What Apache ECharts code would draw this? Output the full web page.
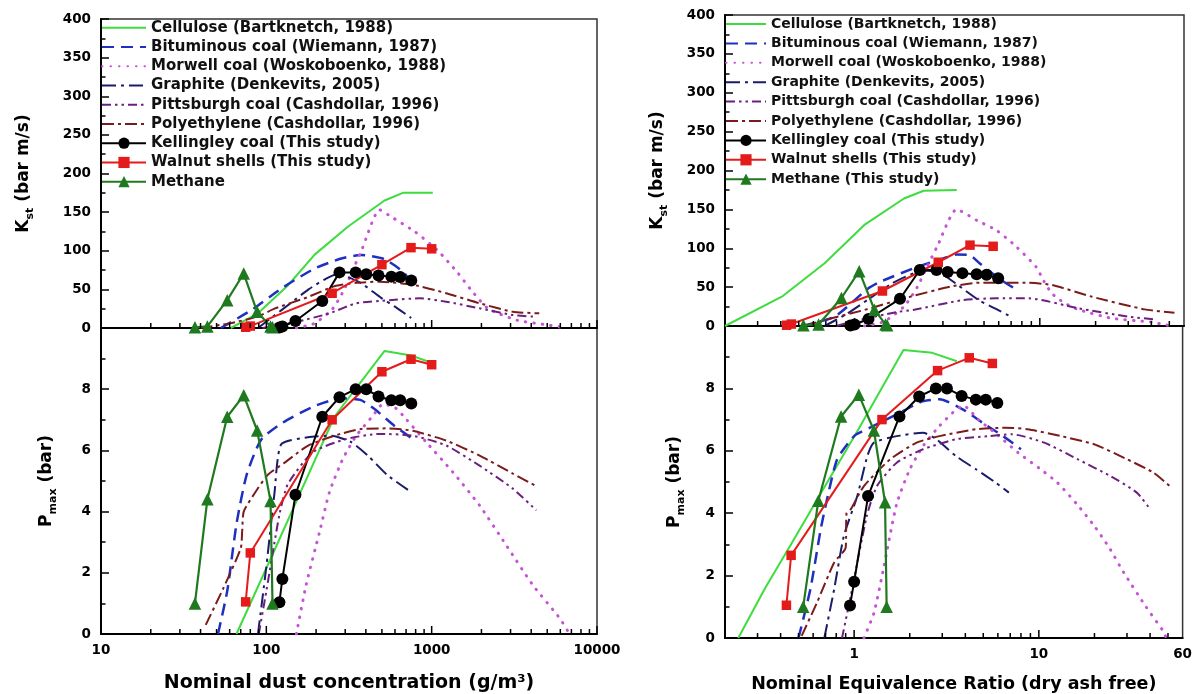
<!DOCTYPE html>
<html>
<head>
<meta charset="utf-8">
<script src="https://cdn.jsdelivr.net/npm/echarts@6/dist/echarts.min.js"></script>
<style>
  html, body { margin: 0; padding: 0; background: #fff; }
  #chart { width: 1195px; height: 694px; }
</style>
</head>
<body>
<div id="chart"></div>
<script>
// ---------- Legend labels ----------
const namesLeft = [
  'Cellulose (Bartknetch, 1988)',
  'Bituminous coal (Wiemann, 1987)',
  'Morwell coal (Woskoboenko, 1988)',
  'Graphite (Denkevits, 2005)',
  'Pittsburgh coal (Cashdollar, 1996)',
  'Polyethylene (Cashdollar, 1996)',
  'Kellingley coal (This study)',
  'Walnut shells (This study)',
  'Methane'
];
const namesRight = namesLeft.slice(0, 8).concat(['Methane (This study)']);

// ---------- Axis tick values ----------
const concMajorTicks = [10, 100, 1000, 10000];
const concMinorTicks = [20, 30, 40, 50, 60, 70, 80, 90, 200, 300, 400, 500, 600, 700, 800, 900,
  2000, 3000, 4000, 5000, 6000, 7000, 8000, 9000];
const phiMajorTicks = [1, 10];
const phiMinorTicks = [0.3, 0.4, 0.5, 0.6, 0.7, 0.8, 0.9, 2, 3, 4, 5, 6, 7, 8, 9, 20, 30, 40, 50];

// ---------- This study: measured points ----------
const kellingleyConc = [120, 125, 150, 218, 277, 347, 402, 477, 570, 645, 753];
const kellingleyPhi  = [0.95, 1.0, 1.19, 1.76, 2.25, 2.77, 3.18, 3.82, 4.56, 5.16, 5.96];
const kellingleyKst  = [0.5, 2, 9, 35, 72, 72, 69.5, 68, 66.5, 66, 61.5];
const kellingleyPmax = [1.04, 1.8, 4.55, 7.1, 7.74, 8.0, 8.0, 7.76, 7.64, 7.64, 7.53];

const walnutConc = [75, 80, 250, 500, 750, 1000];
const walnutPhi  = [0.43, 0.456, 1.415, 2.83, 4.2, 5.6];
const walnutKst  = [1, 2.5, 45, 82, 104, 102.5];
const walnutPmax = [1.05, 2.65, 7.0, 8.57, 8.98, 8.8];

const methaneConc = [37, 44, 58, 73, 88, 106, 109];
const methanePhi  = [0.53, 0.64, 0.85, 1.06, 1.28, 1.47, 1.5];
const methaneKst  = [1, 2, 36, 70.5, 21, 2, 1];
const methanePmax = [1.0, 4.4, 7.1, 7.8, 6.65, 4.35, 1.0];

// ---------- Literature curves vs dust concentration (g/m3) ----------
const celluloseConcK = [61, 89, 135, 196, 311, 519, 670, 1016];
const celluloseKstC  = [0, 19, 55, 95, 131, 165, 175, 175];
const celluloseConcP = [66, 107, 151, 258, 519, 752, 1016];
const cellulosePmaxC = [0, 2.5, 4.3, 7.1, 9.25, 9.1, 8.85];

const bituminousConcK = [53, 81, 123, 196, 284, 375, 519, 685, 788];
const bituminousKstC  = [0, 23, 51, 77, 90, 94.5, 89, 71, 49];
const bituminousConcP = [51, 58, 66, 76, 93, 125, 196, 284, 370, 451, 596, 780];
const bituminousPmaxC = [0, 1.4, 3.6, 5.2, 6.35, 6.9, 7.45, 7.7, 7.65, 7.35, 6.8, 6.35];

const morwellConcK = [152, 196, 252, 296, 335, 379, 484, 569, 788, 1091, 1443, 1735, 2200, 3300, 5000, 6500];
const morwellKstC  = [0, 6, 25, 50, 76, 102, 153, 144, 125, 100, 71, 49, 25, 10, 4, 0];
const morwellConcP = [152, 174, 210, 241, 290, 350, 441, 507, 600, 701, 927, 1343, 1950, 2826, 4091, 5940, 6824];
const morwellPmaxC = [0, 1.6, 3.34, 4.64, 5.72, 6.48, 7.13, 7.51, 7.4, 7.02, 6.27, 5.29, 4.2, 2.9, 1.6, 0.52, 0];

const graphiteConcK = [89, 110, 140, 180, 230, 270, 304, 375, 495, 596, 752];
const graphiteKstC  = [0, 15, 32, 50, 64, 70, 67, 58, 39, 28, 13];
const graphiteConcP = [89, 100, 112, 123, 178, 247, 326, 411, 543, 752];
const graphitePmaxC = [0, 2.2, 4.6, 6.2, 6.43, 6.48, 6.27, 5.83, 5.18, 4.64];

const pittsburghConcK = [95, 152, 241, 350, 556, 845, 1225, 1950, 3097, 4293];
const pittsburghKstC  = [0, 8, 19, 32, 36, 38.4, 34, 25.5, 16.8, 14.6];
const pittsburghConcP = [90, 100, 120, 135, 191, 304, 484, 769, 1225, 1950, 3097, 4293];
const pittsburghPmaxC = [0, 1.4, 3.9, 4.9, 5.94, 6.37, 6.54, 6.48, 6.16, 5.5, 4.75, 4.04];

const polyethyleneConcK = [40, 60, 89, 112, 178, 258, 350, 484, 769, 1225, 1950, 3097, 4475];
const polyethyleneKstC  = [0, 6, 15, 25, 40, 54, 58.5, 60, 56, 45, 32, 21, 19];
const polyethyleneConcP = [43, 55, 70, 71.5, 73, 85, 102, 129, 178, 258, 375, 543, 769, 1225, 1950, 3097, 4400];
const polyethylenePmaxC = [0.3, 1.5, 2.8, 3.4, 4.0, 4.6, 5.2, 5.6, 6.15, 6.48, 6.7, 6.72, 6.64, 6.32, 5.83, 5.24, 4.8];

// ---------- Literature curves vs equivalence ratio ----------
const cellulosePhiK  = [0.2, 0.41, 0.69, 1.13, 1.85, 2.36, 3.56];
const celluloseKstP  = [0, 38.5, 80.6, 130, 164, 174, 175];
const cellulosePhiP  = [0.236, 0.33, 0.455, 0.685, 1.035, 1.44, 1.85, 2.65, 3.6];
const cellulosePmaxP = [0, 1.6, 3.0, 4.8, 6.6, 8.1, 9.23, 9.14, 8.87];

const bituminousPhiK  = [0.52, 0.78, 1.18, 1.38, 2.18, 3.02, 3.56, 4.2, 4.71, 6.03, 7.56];
const bituminousKstP  = [0, 12, 48, 57, 76, 87, 92, 91, 81, 61, 46];
const bituminousPhiP  = [0.5, 0.58, 0.66, 0.72, 0.81, 1.0, 1.22, 1.7, 2.36, 2.9, 3.87, 4.95, 6.3, 8.0];
const bituminousPmaxP = [0, 1.57, 3.5, 4.55, 5.73, 6.47, 6.74, 7.17, 7.59, 7.65, 7.33, 6.9, 6.5, 6.05];

const morwellPhiK  = [1.13, 1.44, 1.85, 2.18, 2.46, 2.79, 3.56, 4.56, 5.84, 7.47, 9.55, 10.5, 11.6, 13.5, 16.2, 24.4, 40, 49];
const morwellKstP  = [0, 5.6, 25, 50, 76, 102, 150, 136, 123, 102, 76, 58, 42, 30, 21, 10, 5, 1];
const morwellPhiP  = [1.13, 1.28, 1.44, 1.7, 2.0, 2.36, 2.9, 3.42, 3.9, 4.71, 6.0, 7.72, 10, 12.6, 16, 19.9, 24, 28.8, 38, 47, 49];
const morwellPmaxP = [0, 0.8, 2.2, 4.3, 5.4, 6.15, 6.8, 7.22, 7.45, 7.0, 6.5, 5.94, 5.45, 4.98, 4.3, 3.6, 2.9, 2.1, 1.0, 0.23, 0];

const graphitePhiK  = [0.69, 0.9, 1.2, 1.6, 2.1, 2.5, 3.0, 3.5, 4.7, 5.8, 6.85];
const graphiteKstP  = [0, 15, 35, 55, 68, 71, 66, 55, 33, 22, 13];
const graphitePhiP  = [0.69, 0.78, 0.88, 1.04, 1.18, 1.28, 1.7, 2.36, 2.79, 3.56, 4.56, 5.84, 6.88];
const graphitePmaxP = [0, 1.57, 3.27, 4.55, 5.84, 6.26, 6.47, 6.58, 6.37, 5.83, 5.41, 4.98, 4.66];

const pittsburghPhiK  = [0.8, 0.96, 1.7, 2.07, 3.84, 5.8, 8.7, 16.2, 30, 41.7];
const pittsburghKstP  = [0, 5.5, 18, 20.6, 33.4, 35.6, 35.6, 22.7, 12, 8.6];
const pittsburghPhiP  = [0.86, 0.96, 1.17, 1.33, 1.7, 2.36, 3.56, 5.37, 7.11, 10.7, 16.2, 24.4, 33.9, 40];
const pittsburghPmaxP = [0, 1.36, 3.9, 4.87, 5.62, 6.05, 6.37, 6.47, 6.53, 6.26, 5.73, 5.19, 4.66, 4.13];

const polyethylenePhiK  = [0.54, 0.69, 1.13, 1.85, 3.28, 4.71, 8.38, 11.65, 19.1, 36.8, 53.3];
const polyethyleneKstP  = [0, 7.7, 20.6, 35.5, 50.5, 55.7, 55.7, 52.7, 37.7, 21.4, 17.1];
const polyethylenePhiP  = [0.52, 0.63, 0.78, 0.9, 0.91, 0.96, 1.13, 1.57, 2.18, 2.9, 4.56, 6.6, 8.7, 13.2, 19.9, 30, 41.7, 51];
const polyethylenePmaxP = [0.07, 1.14, 2.42, 2.9, 4.0, 4.13, 4.87, 5.73, 6.26, 6.47, 6.69, 6.74, 6.69, 6.47, 6.21, 5.73, 5.3, 4.87];

// ---------- Styling ----------
const FONT = "'DejaVu Sans', 'Liberation Sans', sans-serif";
const styles = [
  { color: '#3fdc3f', width: 2, type: 'solid' },                                // cellulose
  { color: '#1f2fc0', width: 2.5, type: [12, 7], smooth: 0.2 },                 // bituminous
  { color: '#c653d6', width: 3, type: [0.5, 8], cap: 'round', smooth: 0.2 },    // morwell
  { color: '#1b1b6b', width: 2, type: [14, 5, 3, 5], smooth: 0.2 },             // graphite
  { color: '#6b1f7e', width: 2, type: [9, 4, 2.5, 4, 2.5, 4], smooth: 0.2 },    // pittsburgh
  { color: '#7c1b1b', width: 2, type: [12, 4, 3, 4], smooth: 0.2 },             // polyethylene
  { color: '#000000', width: 2, symbol: 'circle', size: 12 },                   // kellingley
  { color: '#e41b1b', width: 2, symbol: 'rect', size: 9.5 },                    // walnut
  { color: '#1f7a1f', width: 2.2, symbol: 'triangle', size: 12.5 }              // methane
];

function pairs(xs, ys) { return xs.map((x, i) => [x, ys[i]]); }

function lineSeries(idx, name, grid, xs, ys) {
  const st = styles[idx];
  return {
    type: 'line', name: name, xAxisIndex: grid, yAxisIndex: grid,
    data: pairs(xs, ys),
    symbol: st.symbol || 'none', symbolSize: st.size || 0, showSymbol: !!st.symbol,
    smooth: st.smooth || false,
    lineStyle: { color: st.color, width: st.width, type: st.type || 'solid', cap: st.cap || 'butt' },
    itemStyle: { color: st.color },
    z: st.symbol ? 4 : 3,
    silent: true
  };
}

// Series sets per panel: [x values, y values] in legend order
const panelData = [
  { grid: 0, names: namesLeft, sets: [
    [celluloseConcK, celluloseKstC], [bituminousConcK, bituminousKstC], [morwellConcK, morwellKstC],
    [graphiteConcK, graphiteKstC], [pittsburghConcK, pittsburghKstC], [polyethyleneConcK, polyethyleneKstC],
    [kellingleyConc, kellingleyKst], [walnutConc, walnutKst], [methaneConc, methaneKst]] },
  { grid: 1, names: namesLeft, sets: [
    [celluloseConcP, cellulosePmaxC], [bituminousConcP, bituminousPmaxC], [morwellConcP, morwellPmaxC],
    [graphiteConcP, graphitePmaxC], [pittsburghConcP, pittsburghPmaxC], [polyethyleneConcP, polyethylenePmaxC],
    [kellingleyConc, kellingleyPmax], [walnutConc, walnutPmax], [methaneConc, methanePmax]] },
  { grid: 2, names: namesRight, sets: [
    [cellulosePhiK, celluloseKstP], [bituminousPhiK, bituminousKstP], [morwellPhiK, morwellKstP],
    [graphitePhiK, graphiteKstP], [pittsburghPhiK, pittsburghKstP], [polyethylenePhiK, polyethyleneKstP],
    [kellingleyPhi, kellingleyKst], [walnutPhi, walnutKst], [methanePhi, methaneKst]] },
  { grid: 3, names: namesRight, sets: [
    [cellulosePhiP, cellulosePmaxP], [bituminousPhiP, bituminousPmaxP], [morwellPhiP, morwellPmaxP],
    [graphitePhiP, graphitePmaxP], [pittsburghPhiP, pittsburghPmaxP], [polyethylenePhiP, polyethylenePmaxP],
    [kellingleyPhi, kellingleyPmax], [walnutPhi, walnutPmax], [methanePhi, methanePmax]] }
];

// Inward log-axis tick marks drawn along the bottom edge of each panel
function tickSeries(grid, majors, minors) {
  const data = majors.map(v => [v, 0, 1]).concat(minors.map(v => [v, 0, 0]));
  return {
    type: 'custom', xAxisIndex: grid, yAxisIndex: grid, silent: true, clip: false, z: 6,
    data: data,
    renderItem: function (params, api) {
      const p = api.coord([api.value(0), api.value(1)]);
      const len = api.value(2) ? 8 : 5;
      return { type: 'line', shape: { x1: p[0], y1: p[1], x2: p[0], y2: p[1] - len },
               style: { stroke: '#000', lineWidth: 1.5 } };
    }
  };
}

const series = [];
panelData.forEach(pd => {
  pd.sets.forEach((s, i) => series.push(lineSeries(i, pd.names[i], pd.grid, s[0], s[1])));
});
series.push(tickSeries(0, concMajorTicks, concMinorTicks));
series.push(tickSeries(1, concMajorTicks, concMinorTicks));
series.push(tickSeries(2, phiMajorTicks, phiMinorTicks));
series.push(tickSeries(3, phiMajorTicks, phiMinorTicks));

const labelStyle = { color: '#000', fontFamily: FONT, fontWeight: 'bold', fontSize: 13.5 };

function xAxis(grid, left, showLabel, name, nameGap, nameSize) {
  return {
    type: 'log', logBase: 10, gridIndex: grid,
    min: left ? 10 : 0.2, max: left ? 10000 : 60,
    axisLine: { show: true, onZero: false, lineStyle: { color: '#000', width: 2 } },
    axisTick: { show: false }, minorTick: { show: false }, splitLine: { show: false },
    axisLabel: Object.assign({ show: showLabel, margin: 9,
      formatter: v => (v < 0.5 ? '' : String(Number(v.toPrecision(6)))) }, labelStyle),
    name: name || '', nameLocation: 'middle', nameGap: nameGap || 0,
    nameTextStyle: { color: '#000', fontFamily: FONT, fontWeight: 'bold', fontSize: nameSize || 18 }
  };
}

function yAxis(grid, isKst, nameGap) {
  const name = isKst ? '{k|K}{s|st}{k| (bar m/s)}' : '{k|P}{s|max}{k| (bar)}';
  return {
    type: 'value', gridIndex: grid,
    min: 0, max: isKst ? 400 : 10, interval: isKst ? 50 : 2,
    axisLine: { show: true, lineStyle: { color: '#000', width: 2 } },
    axisTick: { show: true, inside: true, length: 8, lineStyle: { color: '#000', width: 1.5 } },
    minorTick: { show: true, splitNumber: 2, length: 4.5, lineStyle: { color: '#000', width: 1.5 } },
    splitLine: { show: false },
    axisLabel: Object.assign({ margin: 10, showMaxLabel: isKst }, labelStyle),
    name: name, nameLocation: 'middle', nameRotate: 90, nameGap: nameGap,
    nameTextStyle: {
      rich: {
        k: { fontFamily: FONT, fontWeight: 'bold', fontSize: 17, lineHeight: 24, color: '#000' },
        s: { fontFamily: FONT, fontWeight: 'bold', fontSize: 11, lineHeight: 12, verticalAlign: 'bottom', color: '#000' }
      }
    }
  };
}

function legend(names, left, top, itemWidth, itemGap, fontSize) {
  return {
    orient: 'vertical', left: left, top: top, padding: 0,
    itemWidth: itemWidth, itemHeight: 14, itemGap: itemGap, selectedMode: false,
    data: names.map((n, i) => (i < 6 ? { name: n, itemStyle: { opacity: 0 } } : { name: n })),
    textStyle: { color: '#111', fontFamily: FONT, fontWeight: 'bold', fontSize: fontSize, lineHeight: fontSize }
  };
}

const gridStyle = { show: true, borderColor: '#333', borderWidth: 1.5, backgroundColor: 'transparent', containLabel: false };

const option = {
  animation: false,
  backgroundColor: '#fff',
  grid: [
    Object.assign({ left: 101, top: 19, width: 496, height: 309 }, gridStyle),
    Object.assign({ left: 101, top: 328, width: 496, height: 308 }, gridStyle),
    Object.assign({ left: 725, top: 15, width: 459, height: 311 }, gridStyle),
    Object.assign({ left: 725, top: 326, width: 459, height: 313 }, gridStyle)
  ],
  xAxis: [
    xAxis(0, true, false),
    xAxis(1, true, true, 'Nominal dust concentration (g/m\u00b3)', 40, 19),
    xAxis(2, false, false),
    xAxis(3, false, true, 'Nominal Equivalence Ratio (dry ash free)', 37, 17.5)
  ],
  yAxis: [
    yAxis(0, true, 65),
    yAxis(1, false, 42),
    yAxis(2, true, 55),
    yAxis(3, false, 38)
  ],
  legend: [
    legend(namesLeft, 101, 20.2, 44, 4.25, 15),
    legend(namesRight, 725, 17, 40, 5.4, 14)
  ],
  series: series
};

const chart = echarts.init(document.getElementById('chart'), null, { renderer: 'canvas' });
chart.setOption(option);
</script>
</body>
</html>
